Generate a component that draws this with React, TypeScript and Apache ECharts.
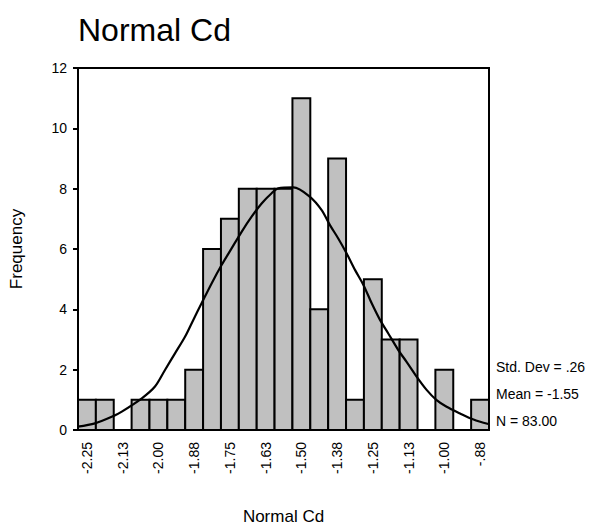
import React, { useEffect, useRef } from "react";
import * as echarts from "echarts";

const binCenters = [
  -2.25, -2.1875, -2.125, -2.0625, -2.0, -1.9375, -1.875, -1.8125, -1.75, -1.6875, -1.625, -1.5625,
  -1.5, -1.4375, -1.375, -1.3125, -1.25, -1.1875, -1.125, -1.0625, -1.0, -0.9375, -0.875,
];
const binWidth = 0.0625;
const frequencies = [1, 1, 0, 1, 1, 1, 2, 6, 7, 8, 8, 8, 11, 4, 9, 1, 5, 3, 3, 0, 2, 0, 1];
const tickLabels = ["-2.25", "-2.13", "-2.00", "-1.88", "-1.75", "-1.63", "-1.50", "-1.38", "-1.25", "-1.13", "-1.00", "-.88"];
const curveX = [
  -2.282, -2.222, -2.158, -2.128, -2.058, -2.012, -1.977, -1.942, -1.907, -1.878, -1.849, -1.814, -1.779,
  -1.744, -1.709, -1.674, -1.639, -1.604, -1.581, -1.528, -1.47, -1.429, -1.4, -1.371, -1.342, -1.312,
  -1.283, -1.254, -1.225, -1.196, -1.161, -1.132, -1.097, -1.062, -1.027, -0.992, -0.945, -0.898, -0.846,
];
const curveY = [
  0.11, 0.22, 0.46, 0.61, 1.05, 1.44, 1.99, 2.54, 3.09, 3.65, 4.2, 4.86, 5.47, 6.02, 6.57, 7.07, 7.51,
  7.85, 8.01, 8.04, 7.73, 7.29, 6.79, 6.35, 5.86, 5.3, 4.81, 4.2, 3.65, 3.2, 2.65, 2.26, 1.77, 1.33, 0.99,
  0.77, 0.55, 0.35, 0.2,
];
const statLines = ["Std. Dev = .26", "Mean = -1.55", "N = 83.00"];
const yTicks = [0, 2, 4, 6, 8, 10, 12];

const FONT = "'Liberation Sans', Arial, sans-serif";

export default function App() {
  const ref = useRef<HTMLDivElement>(null);
  useEffect(() => {
    if (!ref.current) return;
    const chart = echarts.init(ref.current, null, { renderer: "svg" });
    const catData = binCenters.map((v) => v.toFixed(4));
    chart.setOption({
      animation: false,
      backgroundColor: "#ffffff",
      textStyle: { fontFamily: FONT },
      title: {
        text: "Normal Cd",
        left: 73,
        top: 9,
        textStyle: { fontSize: 32, fontWeight: "normal", color: "#000", fontFamily: FONT },
      },
      grid: {
        left: 78,
        top: 68,
        right: 108,
        bottom: 97,
        outerBoundsMode: "none",
        containLabel: false,
        show: true,
        borderColor: "#000",
        borderWidth: 2,
        backgroundColor: "transparent",
      },
      xAxis: [
        {
          type: "category",
          data: catData,
          boundaryGap: true,
          name: "Normal Cd",
          nameLocation: "middle",
          nameGap: 78,
          nameTextStyle: { fontSize: 17, color: "#000", fontFamily: FONT },
          axisLine: { lineStyle: { color: "#000", width: 2 } },
          axisTick: { alignWithLabel: true, interval: 1, length: 5, lineStyle: { color: "#000", width: 2 } },
          axisLabel: {
            interval: 1,
            rotate: 90,
            margin: 12,
            fontSize: 14,
            color: "#000",
            fontFamily: FONT,
            formatter: (_v: string, idx: number) => tickLabels[idx / 2] ?? "",
          },
          splitLine: { show: false },
          z: 5,
        },
        {
          type: "value",
          min: binCenters[0] - binWidth / 2,
          max: binCenters[binCenters.length - 1] + binWidth / 2,
          show: false,
        },
      ],
      yAxis: {
        type: "value",
        min: yTicks[0],
        max: yTicks[yTicks.length - 1],
        interval: 2,
        name: "Frequency",
        nameLocation: "middle",
        nameGap: 53,
        nameTextStyle: { fontSize: 17, color: "#000", fontFamily: FONT },
        axisLine: { show: true, lineStyle: { color: "#000", width: 2 } },
        axisTick: { show: true, length: 5, lineStyle: { color: "#000", width: 2 } },
        axisLabel: { fontSize: 14, color: "#000", margin: 11, fontFamily: FONT },
        splitLine: { show: false },
        z: 5,
      },
      series: [
        {
          type: "custom",
          xAxisIndex: 1,
          data: binCenters.map((c, i) => [c, frequencies[i]]),
          renderItem: (_params: any, api: any) => {
            const c = api.value(0);
            const f = api.value(1);
            if (!f) return null;
            const p0 = api.coord([c - binWidth / 2, f]);
            const p1 = api.coord([c + binWidth / 2, 0]);
            return {
              type: "rect",
              shape: { x: p0[0], y: p0[1], width: p1[0] - p0[0], height: p1[1] - p0[1] },
              style: { fill: "#c0c0c0", stroke: "#000", lineWidth: 2 },
            };
          },
          z: 2,
        },
        {
          type: "line",
          xAxisIndex: 1,
          data: curveX.map((x, i) => [x, curveY[i]]),
          showSymbol: false,
          smooth: 0.3,
          lineStyle: { color: "#000", width: 2.2 },
          z: 3,
        },
      ],
      graphic: statLines.map((t, i) => ({
        type: "text",
        left: 496,
        top: 360 + i * 27,
        style: { text: t, fontSize: 14, fill: "#000", font: `14px ${FONT}` },
      })),
    });
    return () => chart.dispose();
  }, []);
  return (
    <div style={{ position: "fixed", left: 0, top: 0, width: 597, height: 527, background: "#fff" }}>
      <div ref={ref} style={{ width: 597, height: 527 }} />
    </div>
  );
}
